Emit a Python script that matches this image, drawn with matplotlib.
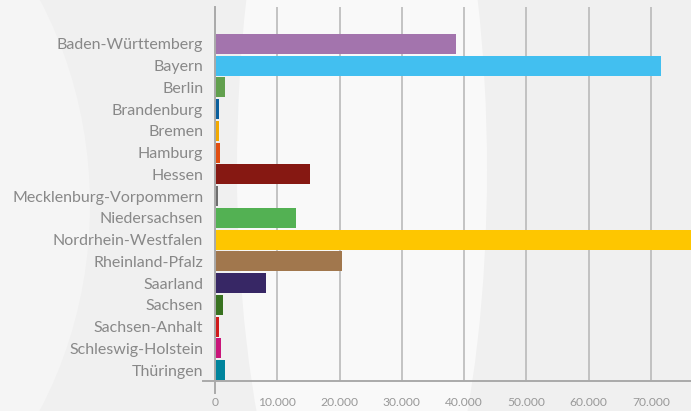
import matplotlib
matplotlib.use("Agg")
import matplotlib.pyplot as plt
from matplotlib.patches import Ellipse
from matplotlib.ticker import FuncFormatter

# Data
states = ["Baden-Württemberg", "Bayern", "Berlin", "Brandenburg", "Bremen",
          "Hamburg", "Hessen", "Mecklenburg-Vorpommern", "Niedersachsen",
          "Nordrhein-Westfalen", "Rheinland-Pfalz", "Saarland", "Sachsen",
          "Sachsen-Anhalt", "Schleswig-Holstein", "Thüringen"]
values = [38700, 71600, 1600, 650, 600, 800, 15200, 450, 13000,
          85000, 20400, 8200, 1300, 650, 950, 1600]
colors = ["#a374ad", "#42bff0", "#62a04e", "#0b5f9c", "#f2a900", "#e14f12",
          "#861812", "#6e6e6e", "#53b153", "#fec600", "#a1774d", "#372765",
          "#387220", "#d01a1b", "#c9157a", "#00849c"]
xticks = [0, 10000, 20000, 30000, 40000, 50000, 60000, 70000]

plt.rcParams['font.family'] = ['Lato', 'DejaVu Sans']

fig = plt.figure(figsize=(6.91, 4.11), dpi=100)
fig.patch.set_facecolor("#f0f0f0")

# background shapes
bg = fig.add_axes([0, 0, 1, 1], zorder=0)
bg.set_xlim(0, 691)
bg.set_ylim(411, 0)
bg.axis("off")
bg.add_patch(Ellipse((-264, 205), 708, 800, color="#f5f5f5", lw=0))
bg.add_patch(Ellipse((362, 170), 250, 900, color="#f9f9f9", lw=0))

ax = fig.add_axes([215/691, 30/411, 476/691, 374/411], zorder=1)
ax.patch.set_alpha(0)

y = list(range(len(states)))
ax.barh(y, values, height=0.92, color=colors, zorder=2)

ax.set_ylim(15.5, -1.7)
ax.set_xlim(0, 76420)
ax.set_yticks(y)
ax.set_yticklabels(states)
ax.set_xticks(xticks)
ax.xaxis.set_major_formatter(FuncFormatter(lambda v, p: format(int(v), ",").replace(",", ".")))

ax.tick_params(axis="y", length=0, pad=8.5, labelsize=11.5, labelcolor="#888888")
ax.tick_params(axis="x", length=0, pad=11.5, labelsize=8.7, labelcolor="#999999")

ax.grid(axis="x", color="#b4b4b4", lw=1.1, zorder=1)
for s in ["top", "right"]:
    ax.spines[s].set_visible(False)
ax.spines["left"].set_color("#aaaaaa")
ax.spines["left"].set_linewidth(1.4)
ax.spines["left"].set_zorder(3)
ax.spines["bottom"].set_color("#aaaaaa")
ax.spines["bottom"].set_linewidth(1.4)

# axis extensions (spine below axis, baseline left of axis)
ax.plot([0, 0], [0, -12/374], transform=ax.transAxes, color="#aaaaaa", lw=1.4, clip_on=False)
ax.plot([-12/476, 0], [0, 0], transform=ax.transAxes, color="#aaaaaa", lw=1.4, clip_on=False)

fig.savefig("out.png", dpi=100, facecolor=fig.get_facecolor())
